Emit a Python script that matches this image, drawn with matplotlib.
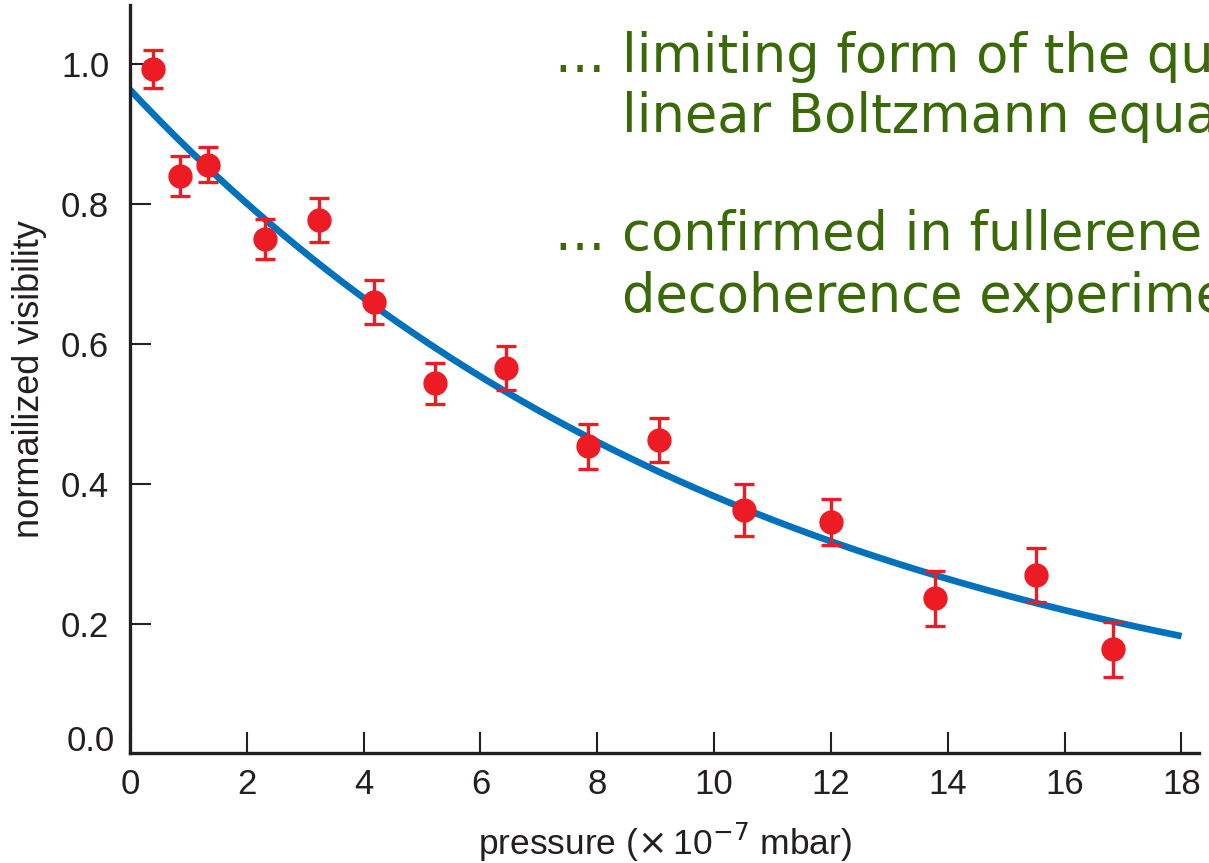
import numpy as np
import matplotlib
matplotlib.use("Agg")
import matplotlib.pyplot as plt
from matplotlib import transforms

# measured visibility vs. gas pressure (units of 1e-7 mbar)
pressure = [0.39, 0.86, 1.34, 2.31, 3.24, 4.18, 5.22, 6.44, 7.84, 9.06,
            10.51, 12.00, 13.78, 15.51, 16.82]
visibility = [0.993, 0.840, 0.856, 0.750, 0.777, 0.660, 0.544, 0.566, 0.454,
              0.463, 0.363, 0.346, 0.237, 0.270, 0.164]
vis_err = [0.027, 0.029, 0.025, 0.029, 0.031, 0.032, 0.029, 0.031, 0.032,
           0.032, 0.037, 0.033, 0.039, 0.038, 0.039]

# exponential decoherence fit  V(p) = A * exp(-k p)
fit_amp = 0.963
fit_rate = 0.0923
fit_range = (0.0, 18.0)

xticks = [0, 2, 4, 6, 8, 10, 12, 14, 16, 18]
yticks = [0.2, 0.4, 0.6, 0.8, 1.0]

notes = ["... limiting form of the quantum",
         "    linear Boltzmann equation",
         "... confirmed in fullerene",
         "    decoherence experiments"]

RED = "#ed1c24"
BLUE = "#0071bc"
INK = "#231f20"
GREEN = "#3a6a08"
SANS = ["Liberation Sans", "DejaVu Sans"]

W, H = 1209, 863
fig = plt.figure(figsize=(W / 100, H / 100), dpi=100)
ax = fig.add_axes([130 / W, 1 - 753 / H, (1199 - 130) / W, (753 - 5) / H])

pp = np.linspace(*fit_range, 300)
ax.plot(pp, fit_amp * np.exp(-fit_rate * pp), color=BLUE, lw=4.8,
        solid_capstyle="butt", zorder=2)

ax.errorbar(pressure, visibility, yerr=vis_err, fmt="o", color=RED, ms=16.5,
            elinewidth=2.4, capsize=7.5, capthick=2.4, zorder=3)

ax.set_xlim(0, 18.3)
ax.set_ylim(0.016, 1.084)
ax.set_xticks(xticks)
ax.set_yticks(yticks)
ax.set_yticklabels([f"{v:.1f}" for v in yticks])

for s in ("top", "right"):
    ax.spines[s].set_visible(False)
for s in ("left", "bottom"):
    ax.spines[s].set_linewidth(2.4)
    ax.spines[s].set_color(INK)

ax.tick_params(direction="in", length=15, width=1.5, color=INK,
               labelcolor=INK, labelsize=25)
ax.tick_params(axis="x", pad=11)
ax.tick_params(axis="y", pad=15)
for lab in ax.get_xticklabels() + ax.get_yticklabels():
    lab.set_fontfamily(SANS)

# zero label sits at the corner of the axes
trans = transforms.blended_transform_factory(ax.transAxes, ax.transAxes)
ax.text(-15 / 1069, 12 / 748, "0.0", transform=trans, ha="right",
        va="center", color=INK, size=25, family=SANS)

ax.set_ylabel("normailized visibility", fontsize=26, color=INK,
              family=SANS, labelpad=10)
ax.set_xlabel("pressure ($\\times\\,$10$^{-7}$ mbar)", fontsize=25.5,
              color=INK, family=SANS, labelpad=14)

baselines = [72, 132, 250, 312]
for txt, yb in zip(notes, baselines):
    fig.text(555 / W, 1 - yb / H, txt, color=GREEN, fontsize=38,
             family="DejaVu Sans", va="baseline", ha="left")

fig.savefig("out.png", dpi=100)
